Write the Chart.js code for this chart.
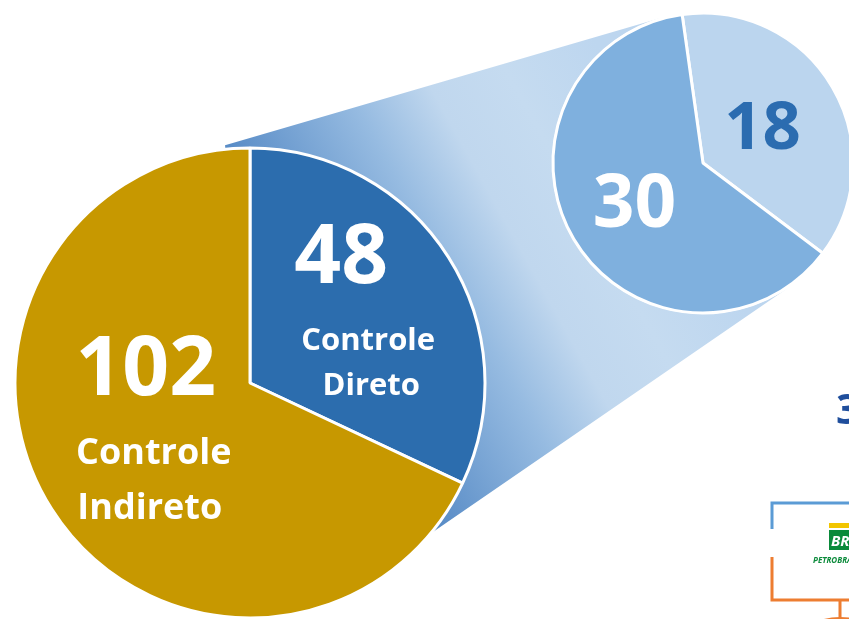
<!DOCTYPE html>
<html>
<head>
<meta charset="utf-8">
<script src="https://cdn.jsdelivr.net/npm/chart.js@4.4.0/dist/chart.umd.min.js"></script>
<style>
  html, body { margin: 0; padding: 0; background: #fff; overflow: hidden; }
  #wrap { position: relative; width: 849px; height: 619px; }
  canvas { position: absolute; left: 0; top: 0; }
</style>
</head>
<body>
<div id="wrap">
  <canvas id="big-chart" width="849" height="619"></canvas>
  <canvas id="small-chart" width="849" height="619"></canvas>
</div>
<script>
// main split of the companies
const mainLabels = ['Controle Direto', 'Controle Indireto'];
const mainValues = [48, 102];
const mainLines = [['Controle', 'Direto'], ['Controle', 'Indireto']];

// breakdown of the direct control slice
const detailLabels = ['18', '30'];
const detailValues = [18, 30];

const FONT = '"Open Sans", "DejaVu Sans", sans-serif';

// writes the numbers (and the captions) into each slice
const sliceText = {
    id: 'sliceText',
    afterDatasetsDraw(chart, args, opts) {
        const ctx = chart.ctx;
        const arcs = chart.getDatasetMeta(0).data;
        const values = chart.data.datasets[0].data;
        ctx.save();
        ctx.textAlign = 'center';
        ctx.textBaseline = 'middle';
        arcs.forEach((arc, i) => {
            const pos = arc.tooltipPosition();
            const st = opts.styles[i];
            ctx.fillStyle = st.color;
            ctx.font = 'bold ' + st.size + 'px ' + FONT;
            ctx.fillText(String(values[i]), pos.x + st.dx, pos.y + st.dy);
            const lines = (opts.lines && opts.lines[i]) || [];
            lines.forEach((line, j) => {
                ctx.font = 'bold ' + st.lineSize + 'px ' + FONT;
                ctx.fillText(line, pos.x + st.lineDx[j], pos.y + st.lineDy[j]);
            });
        });
        ctx.restore();
    }
};

// small pie first, the band behind the big pie needs its geometry
const smallChart = new Chart(document.getElementById('small-chart'), {
    type: 'pie',
    data: {
        labels: detailLabels,
        datasets: [{
            data: detailValues,
            backgroundColor: ['#BBD5EE', '#7FB0DE'],
            borderColor: '#ffffff',
            borderWidth: 3,
            clip: false
        }]
    },
    options: {
        responsive: false,
        animation: false,
        rotation: -8,
        radius: 150,
        layout: { padding: { left: 557, right: 0, top: 0, bottom: 293 } },
        plugins: {
            legend: { display: false },
            tooltip: { enabled: false },
            sliceText: {
                styles: [
                    { color: '#2B6CB0', size: 67, dx: -5, dy: 5 },
                    { color: '#ffffff', size: 73, dx: -4, dy: 5 }
                ]
            }
        }
    },
    plugins: [sliceText]
});

// gradient band joining the two pies
const zoomBand = {
    id: 'zoomBand',
    beforeDatasetsDraw(chart) {
        const ctx = chart.ctx;
        const big = chart.getDatasetMeta(0).data[0];
        const small = smallChart.getDatasetMeta(0).data[0];
        const cx = big.x, cy = big.y, R = big.outerRadius;
        const sx = small.x, sy = small.y, r = small.outerRadius + 1;
        const a1 = -96 * Math.PI / 180;
        const a2 = 40 * Math.PI / 180;
        const p = { x: cx + Math.cos(a1) * (R + 4), y: cy + Math.sin(a1) * (R + 4) };
        const q = { x: cx + Math.cos(a2) * R, y: cy + Math.sin(a2) * R };

        function tangentAngle(pt, sign) {
            const d = Math.hypot(pt.x - sx, pt.y - sy);
            const base = Math.atan2(pt.y - sy, pt.x - sx);
            return base + sign * Math.acos(r / d);
        }
        const t1 = tangentAngle(p, 1);
        const t2 = tangentAngle(q, -1);

        // shading runs from lower left to upper right
        const ux = 0.874, uy = -0.487;
        const grad = ctx.createLinearGradient(130 * ux, 130 * uy, 500 * ux, 500 * uy);
        grad.addColorStop(0, '#5A8DC7');
        grad.addColorStop(0.35, '#96BBE1');
        grad.addColorStop(0.55, '#C0D7EE');
        grad.addColorStop(0.75, '#C5DBF0');
        grad.addColorStop(1, '#BDD6EF');

        ctx.save();
        ctx.beginPath();
        ctx.moveTo(p.x, p.y);
        ctx.lineTo(sx + Math.cos(t1) * r, sy + Math.sin(t1) * r);
        ctx.arc(sx, sy, r, t1, t2, true);
        ctx.lineTo(q.x, q.y);
        ctx.arc(cx, cy, R, a2, a1, true);
        ctx.closePath();
        ctx.fillStyle = grad;
        ctx.fill();
        ctx.restore();
    }
};

// bits of the next slide element, cut by the right edge
const sideBits = {
    id: 'sideBits',
    afterDraw(chart) {
        const ctx = chart.ctx;
        ctx.save();
        ctx.fillStyle = '#1F4E9C';
        ctx.font = 'bold 42px ' + FONT;
        ctx.textAlign = 'left';
        ctx.textBaseline = 'alphabetic';
        ctx.fillText('3', 836, 424);

        ctx.lineWidth = 3;
        ctx.strokeStyle = '#5B9BD5';
        ctx.beginPath();
        ctx.moveTo(772, 529);
        ctx.lineTo(772, 503);
        ctx.lineTo(849, 503);
        ctx.stroke();

        ctx.strokeStyle = '#ED7D31';
        ctx.beginPath();
        ctx.moveTo(772, 557);
        ctx.lineTo(772, 600);
        ctx.lineTo(849, 600);
        ctx.moveTo(840, 600);
        ctx.lineTo(840, 619);
        ctx.stroke();
        ctx.fillStyle = '#ED7D31';
        ctx.beginPath();
        ctx.ellipse(840, 642, 42, 25, 0, 0, Math.PI * 2);
        ctx.fill();

        ctx.fillStyle = '#F2C500';
        ctx.fillRect(829, 523, 21, 5);
        ctx.fillStyle = '#0A8A3A';
        ctx.fillRect(829, 530, 21, 20);
        ctx.fillStyle = '#ffffff';
        ctx.font = 'italic bold 15px ' + FONT;
        ctx.fillText('BR', 831, 546);
        ctx.fillStyle = '#0A8A3A';
        ctx.font = 'italic bold 8px ' + FONT;
        ctx.fillText('PETROBRAS', 813, 563);
        ctx.restore();
    }
};

const bigChart = new Chart(document.getElementById('big-chart'), {
    type: 'pie',
    data: {
        labels: mainLabels,
        datasets: [{
            data: mainValues,
            backgroundColor: ['#2C6DAE', '#C79800'],
            borderColor: '#ffffff',
            borderWidth: 3,
            clip: false
        }]
    },
    options: {
        responsive: false,
        animation: false,
        rotation: 0,
        radius: 235,
        layout: { padding: { left: 0, right: 349, top: 147, bottom: 0 } },
        plugins: {
            legend: { display: false },
            tooltip: { enabled: false },
            sliceText: {
                lines: mainLines,
                styles: [
                    { color: '#ffffff', size: 82, dx: -8, dy: -60, lineSize: 31, lineDx: [19, 22], lineDy: [21, 66] },
                    { color: '#ffffff', size: 82, dx: -5, dy: -74, lineSize: 36, lineDx: [3, -1], lineDy: [8, 63] }
                ]
            }
        }
    },
    plugins: [zoomBand, sliceText, sideBits]
});
</script>
</body>
</html>
